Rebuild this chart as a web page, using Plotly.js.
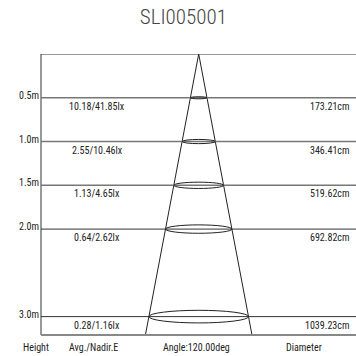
<!DOCTYPE html>
<html><head><meta charset="utf-8">
<script src="https://cdn.plot.ly/plotly-3.0.1.min.js"></script>
<style>html,body{margin:0;padding:0;background:#fff}</style>
</head><body><div id="chart" style="width:356px;height:356px"></div>
<script>
const title = "SLI005001";
const heights = [0.5, 1.0, 1.5, 2.0, 3.0];
const heightLabels = ["0.5m", "1.0m", "1.5m", "2.0m", "3.0m"];
const avgE = [10.18, 2.55, 1.13, 0.64, 0.28];
const nadirE = [41.85, 10.46, 4.65, 2.62, 1.16];
const diameters = [173.21, 346.41, 519.62, 692.82, 1039.23];
const beamAngle = 120.00;
const footer = ["Height", "Avg./Nadir.E", "Angle:" + beamAngle.toFixed(2) + "deg", "Diameter"];

const FONT = "'Liberation Sans Narrow', 'Roboto Condensed', 'Arial Narrow', Roboto, sans-serif";
const yMax = 3.21;     // axis extent below the apex
const k = 16.6;        // schematic cone half-width per metre (axis units)
const e = 0.024;       // ellipse flattening per metre

const shapes = [];
const annotations = [];
// frame
shapes.push({type:'line', xref:'paper', yref:'paper', x0:0, x1:0, y0:0, y1:1, line:{color:'#333', width:1}});
shapes.push({type:'line', xref:'paper', yref:'y', x0:0, x1:1, y0:0, y1:0, line:{color:'#333', width:1}});
shapes.push({type:'line', xref:'paper', yref:'paper', x0:0, x1:1, y0:0, y1:0, line:{color:'#888', width:2}});

heights.forEach((h, i) => {
  const gray = i < 3;
  shapes.push({type:'line', xref:'paper', yref:'y', x0:0, x1:1, y0:h, y1:h,
    line:{color: gray ? '#777' : '#333', width: gray ? 1.6 : 1}});
  shapes.push({type:'circle', xref:'x', yref:'y', x0:-k*h, x1:k*h, y0:h - e*h, y1:h + e*h,
    line:{color:'#222', width:1}});
  annotations.push({xref:'paper', yref:'y', x:0, y:h, xanchor:'right', yanchor:'bottom', yshift:-5,
    text:heightLabels[i], showarrow:false, font:{family:FONT, size:10, color:'#222'}});
  annotations.push({xref:'paper', yref:'y', x:0.178, y:h, xanchor:'center', yanchor:'top', yshift:-1,
    text:avgE[i].toFixed(2) + "/" + nadirE[i].toFixed(2) + "lx", showarrow:false, font:{family:FONT, size:10, color:'#222'}});
  annotations.push({xref:'paper', yref:'y', x:0.984, y:h, xanchor:'right', yanchor:'top', yshift:-1,
    text:diameters[i].toFixed(2) + "cm", showarrow:false, font:{family:FONT, size:10, color:'#222'}});
});

const footX = [-0.016, 0.168, 0.495, 0.835];
footer.forEach((t, i) => {
  annotations.push({xref:'paper', yref:'paper', x:footX[i], y:0, xanchor:'center', yanchor:'middle', yshift:-12,
    text:t, showarrow:false, font:{family:FONT, size:10, color:'#222'}});
});

const cone = {type:'scatter', mode:'lines', x:[-k*yMax, 0, k*yMax], y:[yMax, 0, yMax],
  line:{color:'#222', width:1}, hoverinfo:'skip', showlegend:false};

Plotly.newPlot('chart', [cone], {
  width:356, height:356,
  margin:{l:41, r:0, t:54, b:21},
  paper_bgcolor:'#fff', plot_bgcolor:'#fff',
  title:{text:title, x:0.515, xanchor:'center', y:0.952, yanchor:'middle', font:{family:FONT, size:21, color:'#444', weight:300}},
  xaxis:{range:[-157.7, 157.3], visible:false, fixedrange:true},
  yaxis:{range:[yMax, 0], visible:false, fixedrange:true},
  shapes:shapes, annotations:annotations, showlegend:false
}, {staticPlot:true, displayModeBar:false});
</script></body></html>
